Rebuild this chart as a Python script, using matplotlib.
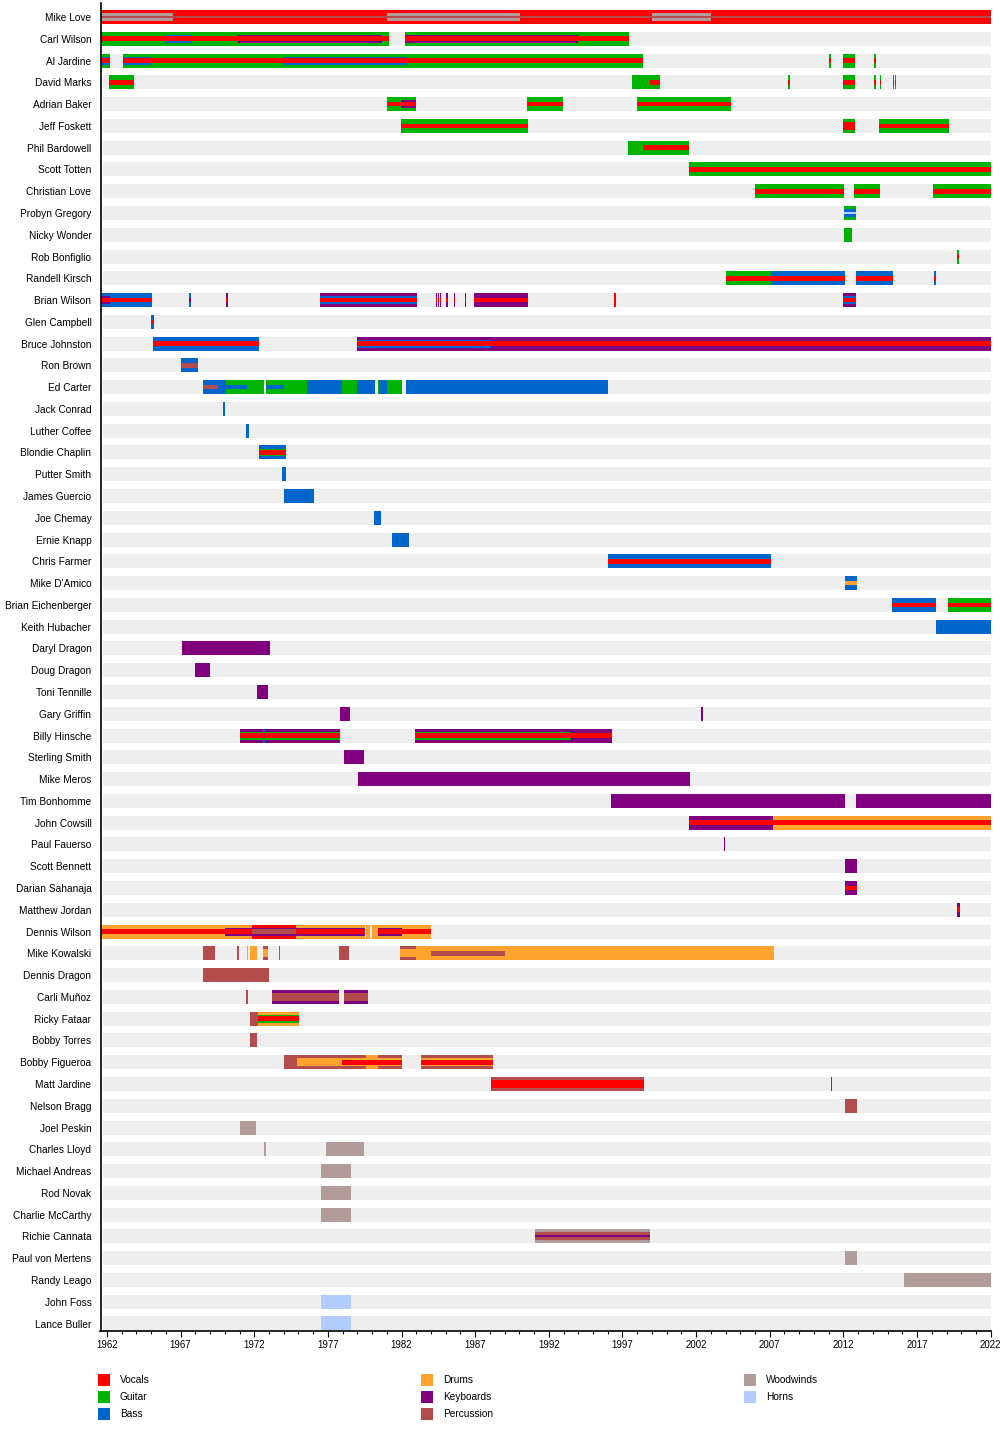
import matplotlib
matplotlib.use("Agg")
import matplotlib.pyplot as plt
from matplotlib.patches import Rectangle

plt.rcParams['font.family'] = ['Liberation Sans', 'DejaVu Sans']

START = 1961.56
END = 2022.0

members = [
    "Mike Love", "Carl Wilson", "Al Jardine", "David Marks", "Adrian Baker",
    "Jeff Foskett", "Phil Bardowell", "Scott Totten", "Christian Love",
    "Probyn Gregory", "Nicky Wonder", "Rob Bonfiglio", "Randell Kirsch",
    "Brian Wilson", "Glen Campbell", "Bruce Johnston", "Ron Brown", "Ed Carter",
    "Jack Conrad", "Luther Coffee", "Blondie Chaplin", "Putter Smith",
    "James Guercio", "Joe Chemay", "Ernie Knapp", "Chris Farmer",
    "Mike D'Amico", "Brian Eichenberger", "Keith Hubacher", "Daryl Dragon",
    "Doug Dragon", "Toni Tennille", "Gary Griffin", "Billy Hinsche",
    "Sterling Smith", "Mike Meros", "Tim Bonhomme", "John Cowsill",
    "Paul Fauerso", "Scott Bennett", "Darian Sahanaja", "Matthew Jordan",
    "Dennis Wilson", "Mike Kowalski", "Dennis Dragon", "Carli Muñoz",
    "Ricky Fataar", "Bobby Torres", "Bobby Figueroa", "Matt Jardine",
    "Nelson Bragg", "Joel Peskin", "Charles Lloyd", "Michael Andreas",
    "Rod Novak", "Charlie McCarthy", "Richie Cannata", "Paul von Mertens",
    "Randy Leago", "John Foss", "Lance Buller",
]

# (member, from, till, tier) ; tier 0 = main role, 1/2/3 = secondary roles
vocals = [
    ("Mike Love", START, END, 0),
    ("Carl Wilson", START, 1981.17, 2), ("Carl Wilson", 1982.23, 1997.44, 2),
    ("Al Jardine", START, 1962.2, 2), ("Al Jardine", 1963.09, 1998.37, 2),
    ("Al Jardine", 2011.05, 2011.17, 2), ("Al Jardine", 2011.95, 2012.8, 2),
    ("Al Jardine", 2014.08, 2014.2, 2),
    ("David Marks", 1962.13, 1963.83, 2), ("David Marks", 1998.87, 1999.55, 2),
    ("David Marks", 2008.25, 2008.37, 2), ("David Marks", 2011.95, 2012.8, 2),
    ("David Marks", 2014.08, 2014.18, 2), ("David Marks", 2014.48, 2014.58, 2),
    ("David Marks", 2015.35, 2015.45, 2), ("David Marks", 2015.5, 2015.6, 2),
    ("Adrian Baker", 1980.99, 1982.98, 2), ("Adrian Baker", 1990.52, 1992.94, 2),
    ("Adrian Baker", 1997.99, 2004.35, 2),
    ("Jeff Foskett", 1981.96, 1990.58, 2), ("Jeff Foskett", 2011.97, 2012.79, 1),
    ("Jeff Foskett", 2014.43, 2019.17, 2),
    ("Phil Bardowell", 1998.37, 2001.52, 2),
    ("Scott Totten", 2001.52, END, 2),
    ("Christian Love", 2006.0, 2012.04, 2), ("Christian Love", 2012.72, 2014.49, 2),
    ("Christian Love", 2018.08, END, 2),
    ("Rob Bonfiglio", 2019.68, 2019.85, 2),
    ("Randell Kirsch", 2004.06, 2012.09, 2), ("Randell Kirsch", 2012.83, 2015.35, 2),
    ("Randell Kirsch", 2018.14, 2018.26, 2),
    ("Brian Wilson", START, 1965.03, 2), ("Brian Wilson", 1970.11, 1970.23, 2),
    ("Brian Wilson", 1976.48, 1983.02, 2), ("Brian Wilson", 1986.94, 1990.56, 2),
    ("Brian Wilson", 1996.45, 1996.55, 0), ("Brian Wilson", 2012.0, 2012.85, 2),
    ("Brian Wilson", 1984.36, 1984.44, 2), ("Brian Wilson", 1984.47, 1984.55, 2),
    ("Brian Wilson", 1984.63, 1984.71, 2), ("Brian Wilson", 1985.04, 1985.12, 2),
    ("Brian Wilson", 1985.53, 1985.61, 2), ("Brian Wilson", 1986.32, 1986.4, 2),
    ("Glen Campbell", 1964.99, 1965.17, 2),
    ("Bruce Johnston", 1965.12, 1972.32, 2), ("Bruce Johnston", 1979.0, END, 2),
    ("Blondie Chaplin", 1972.3, 1974.13, 2),
    ("Chris Farmer", 1996.04, 2007.1, 2),
    ("Brian Eichenberger", 2015.3, 2018.3, 2), ("Brian Eichenberger", 2019.07, END, 2),
    ("Billy Hinsche", 1971.0, 1977.8, 2), ("Billy Hinsche", 1982.9, 1996.3, 2),
    ("John Cowsill", 2001.55, END, 2),
    ("Darian Sahanaja", 2012.09, 2012.92, 2),
    ("Matthew Jordan", 2019.72, 2019.94, 2),
    ("Dennis Wilson", START, 1971.85, 2), ("Dennis Wilson", 1971.85, 1974.83, 0),
    ("Dennis Wilson", 1974.83, 1979.52, 2), ("Dennis Wilson", 1980.42, 1984.02, 2),
    ("Ricky Fataar", 1972.27, 1975.04, 2),
    ("Bobby Figueroa", 1977.94, 1982.03, 2), ("Bobby Figueroa", 1983.32, 1988.23, 2),
    ("Matt Jardine", 1988.05, 1998.47, 1), ("Matt Jardine", 2011.14, 2011.24, 0),
]

guitar = [
    ("Carl Wilson", START, 1981.17, 0), ("Carl Wilson", 1982.23, 1997.44, 0),
    ("Al Jardine", START, 1962.2, 0), ("Al Jardine", 1963.09, 1998.37, 0),
    ("Al Jardine", 2011.05, 2011.17, 0), ("Al Jardine", 2011.95, 2012.8, 0),
    ("Al Jardine", 2014.08, 2014.2, 0),
    ("David Marks", 1962.13, 1963.83, 0), ("David Marks", 1997.65, 1999.55, 0),
    ("David Marks", 2008.25, 2008.37, 0), ("David Marks", 2011.95, 2012.8, 0),
    ("David Marks", 2014.08, 2014.18, 0), ("David Marks", 2014.48, 2014.58, 0),
    ("David Marks", 2015.35, 2015.45, 0), ("David Marks", 2015.5, 2015.6, 0),
    ("Adrian Baker", 1980.99, 1982.98, 0), ("Adrian Baker", 1990.52, 1992.94, 0),
    ("Adrian Baker", 1997.99, 2004.35, 0),
    ("Jeff Foskett", 1981.96, 1990.58, 0), ("Jeff Foskett", 2011.97, 2012.79, 0),
    ("Jeff Foskett", 2014.43, 2019.17, 0),
    ("Phil Bardowell", 1997.37, 2001.52, 0),
    ("Scott Totten", 2001.52, END, 0),
    ("Christian Love", 2006.0, 2012.04, 0), ("Christian Love", 2012.72, 2014.49, 0),
    ("Christian Love", 2018.08, END, 0),
    ("Probyn Gregory", 2012.05, 2012.88, 0),
    ("Nicky Wonder", 2012.05, 2012.6, 0),
    ("Rob Bonfiglio", 2019.68, 2019.85, 0),
    ("Randell Kirsch", 2004.06, 2007.05, 0),
    ("Ed Carter", 1970.06, 1972.66, 0), ("Ed Carter", 1972.8, 1975.58, 0),
    ("Ed Carter", 1977.98, 1979.0, 0), ("Ed Carter", 1980.37, 1980.5, 0),
    ("Ed Carter", 1980.99, 1982.0, 0),
    ("Brian Eichenberger", 2019.07, END, 0),
    ("Blondie Chaplin", 1972.3, 1974.13, 1),
    ("Billy Hinsche", 1971.0, 1977.8, 1), ("Billy Hinsche", 1982.9, 1993.48, 1),
    ("Ricky Fataar", 1972.27, 1975.04, 1),
]

bass = [
    ("Al Jardine", START, 1962.2, 1), ("Al Jardine", 1963.09, 1964.97, 1),
    ("Al Jardine", 1973.97, 1982.35, 1),
    ("Carl Wilson", 1965.94, 1967.75, 1),
    ("Probyn Gregory", 2012.05, 2012.88, 1),
    ("Randell Kirsch", 2007.05, 2012.09, 0), ("Randell Kirsch", 2012.83, 2015.35, 0),
    ("Randell Kirsch", 2018.14, 2018.26, 0),
    ("Brian Wilson", START, 1965.03, 0), ("Brian Wilson", 1967.59, 1967.71, 0),
    ("Brian Wilson", 1976.48, 1983.02, 1), ("Brian Wilson", 2012.0, 2012.85, 1),
    ("Glen Campbell", 1964.99, 1965.17, 0),
    ("Bruce Johnston", 1965.12, 1972.32, 0), ("Bruce Johnston", 1979.0, 1988.07, 1),
    ("Ron Brown", 1967.02, 1968.18, 0),
    ("Ed Carter", 1968.52, 1970.06, 0), ("Ed Carter", 1970.06, 1971.49, 2),
    ("Ed Carter", 1972.8, 1974.04, 2), ("Ed Carter", 1975.58, 1977.98, 0),
    ("Ed Carter", 1979.0, 1980.2, 0), ("Ed Carter", 1980.5, 1980.99, 0),
    ("Ed Carter", 1982.3, 1996.04, 0),
    ("Jack Conrad", 1969.87, 1969.99, 0),
    ("Luther Coffee", 1971.47, 1971.61, 0),
    ("Blondie Chaplin", 1972.3, 1974.13, 0),
    ("Putter Smith", 1973.87, 1974.13, 0),
    ("James Guercio", 1974.04, 1976.08, 0),
    ("Joe Chemay", 1980.16, 1980.59, 0),
    ("Ernie Knapp", 1981.33, 1982.5, 0),
    ("Chris Farmer", 1996.04, 2007.1, 0),
    ("Mike D'Amico", 2012.09, 2012.92, 0),
    ("Brian Eichenberger", 2015.3, 2018.3, 0),
    ("Keith Hubacher", 2018.3, END, 0),
    ("Billy Hinsche", 1972.59, 1972.71, 0),
]

drums = [
    ("Dennis Wilson", START, 1971.85, 0), ("Dennis Wilson", 1974.83, 1979.52, 0),
    ("Dennis Wilson", 1979.6, 1979.86, 0), ("Dennis Wilson", 1979.97, 1984.02, 0),
    ("Mike D'Amico", 2012.09, 2012.92, 2),
    ("John Cowsill", 2007.23, END, 0),
    ("Mike Kowalski", 1971.48, 1971.58, 0), ("Mike Kowalski", 1971.71, 1972.16, 0),
    ("Mike Kowalski", 1972.59, 1972.93, 1), ("Mike Kowalski", 1981.9, 1982.98, 1),
    ("Mike Kowalski", 1982.98, 2007.3, 0),
    ("Ricky Fataar", 1972.27, 1975.04, 0),
    ("Bobby Figueroa", 1974.92, 1982.03, 1), ("Bobby Figueroa", 1979.59, 1980.38, 0),
    ("Bobby Figueroa", 1983.32, 1988.23, 1),
]

keyboards = [
    ("Carl Wilson", 1970.92, 1980.65, 1), ("Carl Wilson", 1982.23, 1994.0, 1),
    ("Adrian Baker", 1981.96, 1982.98, 1),
    ("Brian Wilson", START, 1962.2, 1), ("Brian Wilson", 1967.59, 1967.71, 2),
    ("Brian Wilson", 1970.11, 1970.23, 0), ("Brian Wilson", 1976.48, 1983.02, 0),
    ("Brian Wilson", 1984.36, 1984.44, 0), ("Brian Wilson", 1984.47, 1984.55, 0),
    ("Brian Wilson", 1984.63, 1984.71, 0), ("Brian Wilson", 1985.04, 1985.12, 0),
    ("Brian Wilson", 1985.53, 1985.61, 0), ("Brian Wilson", 1986.32, 1986.4, 0),
    ("Brian Wilson", 1986.94, 1990.56, 0), ("Brian Wilson", 2012.0, 2012.85, 0),
    ("Bruce Johnston", 1979.0, END, 0),
    ("Daryl Dragon", 1967.06, 1973.09, 0),
    ("Doug Dragon", 1968.0, 1969.0, 0),
    ("Toni Tennille", 1972.2, 1972.96, 0),
    ("Gary Griffin", 1977.8, 1978.47, 0), ("Gary Griffin", 2002.33, 2002.5, 0),
    ("Billy Hinsche", 1971.0, 1977.8, 0), ("Billy Hinsche", 1982.9, 1996.3, 0),
    ("Sterling Smith", 1978.12, 1979.42, 0),
    ("Mike Meros", 1979.03, 2001.59, 0),
    ("Tim Bonhomme", 1996.22, 2012.13, 0), ("Tim Bonhomme", 2012.83, END, 0),
    ("John Cowsill", 2001.55, 2007.23, 0),
    ("Paul Fauerso", 2003.87, 2003.99, 0),
    ("Scott Bennett", 2012.09, 2012.92, 0),
    ("Darian Sahanaja", 2012.09, 2012.92, 0),
    ("Matthew Jordan", 2019.72, 2019.94, 0),
    ("Dennis Wilson", 1970.0, 1979.52, 1), ("Dennis Wilson", 1980.42, 1982.0, 1),
    ("Carli Muñoz", 1973.2, 1977.75, 0), ("Carli Muñoz", 1978.09, 1979.7, 0),
    ("Richie Cannata", 1991.05, 1998.9, 3),
]

percussion = [
    ("Mike Love", START, END, 3),
    ("Ron Brown", 1967.02, 1968.18, 2),
    ("Ed Carter", 1968.52, 1969.56, 2),
    ("Dennis Wilson", 1971.85, 1974.83, 2),
    ("Mike Kowalski", 1968.54, 1969.33, 0), ("Mike Kowalski", 1970.8, 1970.98, 0),
    ("Mike Kowalski", 1972.59, 1972.93, 0), ("Mike Kowalski", 1973.66, 1973.78, 0),
    ("Mike Kowalski", 1977.75, 1978.43, 0), ("Mike Kowalski", 1981.9, 1982.98, 0),
    ("Mike Kowalski", 1983.98, 1989.02, 2),
    ("Dennis Dragon", 1968.5, 1973.0, 0),
    ("Carli Muñoz", 1971.43, 1971.56, 0), ("Carli Muñoz", 1973.2, 1977.75, 1),
    ("Carli Muñoz", 1978.09, 1979.7, 1),
    ("Ricky Fataar", 1971.71, 1972.27, 0),
    ("Bobby Torres", 1971.71, 1972.16, 0),
    ("Bobby Figueroa", 1974.02, 1982.03, 0), ("Bobby Figueroa", 1983.32, 1988.23, 0),
    ("Matt Jardine", 1988.05, 1998.47, 0),
    ("Nelson Bragg", 2012.09, 2012.92, 0),
    ("Richie Cannata", 1991.05, 1998.9, 1),
]

woodwinds = [
    ("Mike Love", START, 1966.45, 1), ("Mike Love", 1980.99, 1990.04, 1),
    ("Mike Love", 1999.0, 2002.98, 1),
    ("Joel Peskin", 1971.0, 1972.09, 0),
    ("Charles Lloyd", 1972.63, 1972.77, 0), ("Charles Lloyd", 1976.9, 1979.42, 0),
    ("Michael Andreas", 1976.51, 1978.6, 0),
    ("Rod Novak", 1976.51, 1978.6, 0),
    ("Charlie McCarthy", 1976.51, 1978.6, 0),
    ("Richie Cannata", 1991.05, 1998.9, 0),
    ("Paul von Mertens", 2012.09, 2012.92, 0),
    ("Randy Leago", 2016.08, END, 0),
]

horns = [
    ("Probyn Gregory", 2012.05, 2012.88, 3),
    ("John Foss", 1976.51, 1978.6, 0),
    ("Lance Buller", 1976.51, 1978.6, 0),
]

role_names = ["Vocals", "Guitar", "Bass", "Drums", "Keyboards", "Percussion",
              "Woodwinds", "Horns"]
role_data = [vocals, guitar, bass, drums, keyboards, percussion, woodwinds, horns]
role_colors = ["#ff0000", "#00b300", "#0066cc", "#ffa32e", "#800080", "#b34d4d",
               "#b19b9b", "#b3ccff"]

major_ticks = list(range(1962, 2023, 5))
minor_ticks = list(range(1962, 2023, 1))

# ---------------- drawing ----------------
W, H = 1000, 1430
fig = plt.figure(figsize=(W / 100, H / 100), dpi=100)
ax_left, ax_right = 100.5 / W, 990.7 / W
ax_top_px, ax_bot_px = 3.0, 1330.7
ax = fig.add_axes([ax_left, 1 - ax_bot_px / H, ax_right - ax_left,
                   (ax_bot_px - ax_top_px) / H])

row_px = 21.775
bar_h = 14.0 / row_px
tier_h = [bar_h, bar_h * 0.57, bar_h * 0.33, bar_h * 0.15]

rows = {m: i for i, m in enumerate(members)}

# background bars
for i in range(len(members)):
    ax.barh(i, END - 1961.72, left=1961.72, height=bar_h, color="#eeeeee",
            linewidth=0, zorder=1)

segs = []
for color, data in zip(role_colors, role_data):
    for (m, s, e, t) in data:
        segs.append((t, -(e - s), rows[m], s, e, color))
segs.sort(key=lambda r: (r[0], r[1]))
for k, (t, negd, r, s, e, color) in enumerate(segs):
    ax.barh(r, e - s, left=s, height=tier_h[t], color=color, linewidth=0,
            zorder=2 + k * 1e-4)

ax.set_xlim(START, END)
ax.set_ylim(60 + (ax_bot_px - (17 + 60 * row_px)) / row_px, -(17 - ax_top_px) / row_px)

ax.set_yticks(range(len(members)))
ax.set_yticklabels(members, fontsize=7.3)
ax.tick_params(axis="y", length=0, pad=6.5)

ax.set_xticks(major_ticks)
ax.set_xticklabels([str(y) for y in major_ticks], fontsize=6.9)
ax.set_xticks(minor_ticks, minor=True)
ax.tick_params(axis="x", which="major", direction="out", length=4.3, width=0.8,
               pad=2.5)
ax.tick_params(axis="x", which="minor", direction="out", length=2.2, width=0.8)

for sp in ["top", "right"]:
    ax.spines[sp].set_visible(False)
for sp in ["left", "bottom"]:
    ax.spines[sp].set_linewidth(1.2)
    ax.spines[sp].set_color("black")

# legend
legend_cols_px = [98, 421, 744]
legend_rows_px = [1380, 1397, 1414]
for idx, (name, color) in enumerate(zip(role_names, role_colors)):
    col, rw = idx // 3, idx % 3
    x0 = legend_cols_px[col]
    yc = legend_rows_px[rw]
    fig.patches.append(Rectangle((x0 / W, 1 - (yc + 6) / H), 12 / W, 12 / H,
                                 transform=fig.transFigure, color=color,
                                 linewidth=0))
    fig.text((x0 + 22) / W, 1 - yc / H, name, fontsize=7.3, va="center",
             ha="left")

fig.savefig("out.png", dpi=100)
